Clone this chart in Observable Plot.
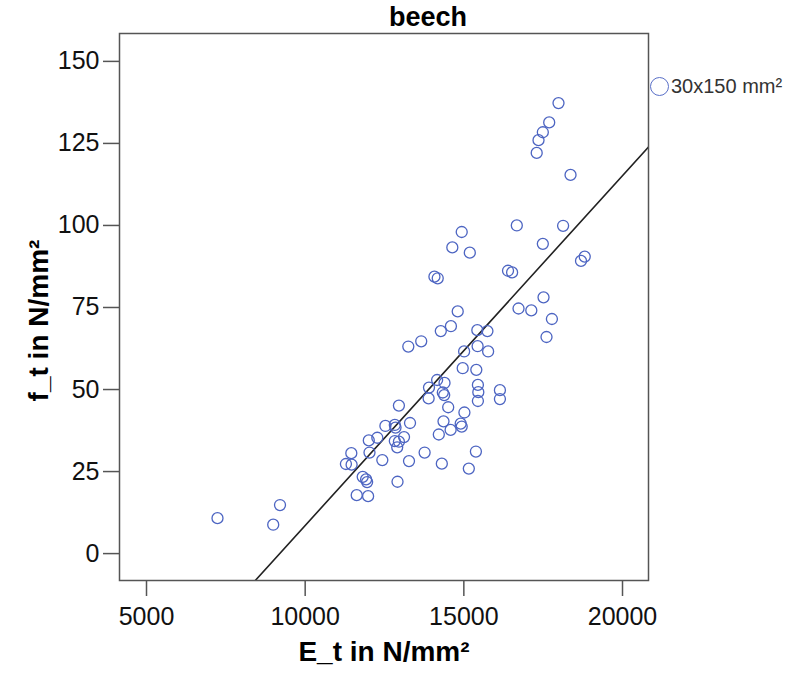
<!DOCTYPE html>
<html>
<head>
<meta charset="utf-8">
<script src="https://cdn.jsdelivr.net/npm/d3@7"></script>
<script src="https://cdn.jsdelivr.net/npm/@observablehq/plot@0.6"></script>
<style>
  html, body { margin: 0; padding: 0; background: #fff; }
  #wrap { position: relative; width: 800px; height: 678px; font-family: "Liberation Sans", Arial, sans-serif; }
  #title { position: absolute; left: 328px; width: 200px; top: 4px; line-height: 27px; text-align: center; font-weight: bold; font-size: 27px; color: #000; z-index: 2; }
  #legend { position: absolute; left: 650px; top: 76px; display: flex; align-items: center; font-size: 20px; line-height: 20px; color: #333; z-index: 2; white-space: nowrap; }
  #legend .sw { width: 19px; height: 19px; border: 1.4px solid #5a70c8; border-radius: 50%; box-sizing: border-box; margin-right: 2px; flex: none; }
</style>
</head>
<body>
<div id="wrap">
  <div id="title">beech</div>
  <div id="legend"><div class="sw"></div><span>30x150 mm²</span></div>
</div>
<script>
// E_t in N/mm²
const E_t = [17983, 17690, 17489, 17353, 17296, 18362, 14933, 16669, 18128, 17489,
  14637, 15188, 18809, 18692, 14073, 14177, 16392, 16521, 17511, 14807,
  16723, 17126, 17775, 14593, 14274, 15425, 15743, 13657, 13250, 17605,
  15009, 15434, 15765, 14964, 15393, 14158, 14391, 13902, 15443, 15456,
  15443, 16137, 16137, 14337, 14381, 13890, 14507, 12954, 15018, 14359,
  14901, 14933, 14583, 14211, 13304, 12825, 12847, 12528, 12273, 12005,
  13115, 12825, 12954, 12900, 11454, 12027, 11284, 11463, 12431, 13272,
  13764, 15380, 14306, 15157, 11813, 11920, 11952, 12910, 11624, 11983,
  9207, 7237, 8993];
// f_t in N/mm²
const f_t = [137.3, 131.4, 128.4, 126.0, 122.1, 115.4, 98.0, 100.0, 99.9, 94.4,
  93.3, 91.7, 90.5, 89.2, 84.4, 83.9, 86.2, 85.7, 78.1, 73.8,
  74.7, 74.1, 71.5, 69.3, 67.8, 68.1, 67.8, 64.7, 63.1, 66.0,
  61.6, 63.2, 61.6, 56.5, 56.0, 52.9, 52.0, 50.6, 51.4, 49.2,
  46.5, 49.8, 47.1, 49.1, 48.3, 47.3, 44.6, 45.1, 43.0, 40.3,
  39.6, 38.7, 37.7, 36.3, 39.8, 39.2, 38.4, 38.9, 35.3, 34.5,
  35.5, 34.3, 34.1, 32.4, 30.6, 30.8, 27.3, 27.1, 28.5, 28.2,
  30.8, 31.1, 27.4, 25.9, 23.4, 22.6, 21.8, 21.9, 17.8, 17.5,
  14.8, 10.8, 8.8];
const xTicks = [5000, 10000, 15000, 20000];
const yTicks = [0, 25, 50, 75, 100, 125, 150];
const xDomain = [4149, 20819];
const yDomain = [-8.2, 158.5];
const xLabel = "E_t in N/mm²";
const yLabel = "f_t in N/mm²";

const data = E_t.map((e, i) => ({E: e, f: f_t[i]}));

// least-squares fit line across the whole x axis
const mx = d3.mean(E_t), my = d3.mean(f_t);
const slope = d3.sum(data, d => (d.E - mx) * (d.f - my)) / d3.sum(data, d => (d.E - mx) ** 2);
const intercept = my - slope * mx;
const fit = xDomain.map(x => ({E: x, f: intercept + slope * x}));

const chart = Plot.plot({
  width: 800,
  height: 678,
  marginLeft: 119,
  marginRight: 152,
  marginTop: 33,
  marginBottom: 98,
  style: {fontFamily: "Liberation Sans, Arial, sans-serif", color: "#000", background: "transparent"},
  x: {domain: xDomain},
  y: {domain: yDomain},
  marks: [
    Plot.axisX({ticks: xTicks, tickSize: 16, tickPadding: 11, tickFormat: d => String(d), fontSize: 25, label: null, stroke: "#555", strokeWidth: 1.5, fill: "#111"}),
    Plot.axisY({ticks: yTicks, tickSize: 16, tickPadding: 4, tickFormat: d => String(d), fontSize: 25, label: null, stroke: "#555", strokeWidth: 1.5, fill: "#111"}),
    Plot.line(fit, {x: "E", y: "f", clip: true, stroke: "#222", strokeWidth: 1.6}),
    Plot.dot(data, {x: "E", y: "f", r: 5.5, stroke: "#4d65c2", strokeWidth: 1.3, fill: "none"}),
    Plot.frame({stroke: "#555", strokeWidth: 1.5}),
    Plot.text([xLabel], {frameAnchor: "bottom", dy: 80, textAnchor: "middle", fontSize: 28, fontWeight: "bold", fill: "#000"}),
    Plot.text([yLabel], {frameAnchor: "left", dx: -80, dy: 13.5, textAnchor: "middle", rotate: -90, fontSize: 28, fontWeight: "bold", fill: "#000"})
  ]
});
chart.style.position = "absolute";
chart.style.left = "0px";
chart.style.top = "0px";
document.getElementById("wrap").prepend(chart);
</script>
</body>
</html>
